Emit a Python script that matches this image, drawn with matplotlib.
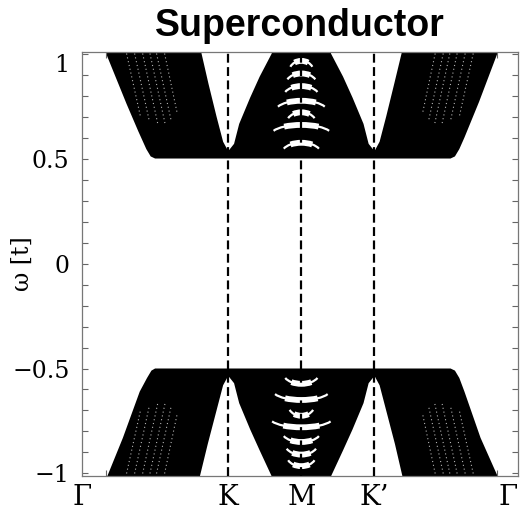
import numpy as np
import matplotlib
matplotlib.use('Agg')
import matplotlib.pyplot as plt
from matplotlib.patches import Arc
from matplotlib.ticker import MultipleLocator

plt.rcParams['font.family'] = ['DejaVu Serif']

# high-symmetry path (Γ-K-M-K'-Γ), path length units
k_pos = [0.0, 2.0, 3.0, 4.0, 5.96]
k_labels = ['Γ', 'K', 'M', 'K’', 'Γ']
k_minor = [0.33, 1.82, 2.13, 2.42, 3.60, 3.92, 4.20, 5.68]

# outer envelope of the upper (particle) band continuum
up_out_x = [0.28, 0.33, 0.61, 0.77, 0.88, 0.94, 1.00, 5.04, 5.10, 5.16, 5.23, 5.43, 5.68, 5.73]
up_out_E = [1.05, 1.00, 0.76, 0.63, 0.545, 0.51, 0.50, 0.50, 0.51, 0.545, 0.60, 0.77, 1.00, 1.05]
# empty V above K and K'
up_vK_x = [1.62, 1.635, 1.73, 1.84, 1.93, 2.0, 2.08, 2.15, 2.30, 2.43, 2.595, 2.61]
up_vK_E = [1.05, 1.00, 0.856, 0.70, 0.58, 0.535, 0.57, 0.665, 0.79, 0.89, 1.00, 1.05]
up_vKp_x = [3.39, 3.405, 3.57, 3.70, 3.85, 3.92, 4.0, 4.07, 4.16, 4.27, 4.37, 4.39]
up_vKp_E = [1.05, 1.00, 0.89, 0.79, 0.665, 0.57, 0.535, 0.58, 0.70, 0.856, 1.00, 1.05]

# lower (hole) band continuum
lo_out_x = [0.30, 0.35, 0.56, 0.79, 0.89, 0.95, 1.00, 5.04, 5.10, 5.16, 5.23, 5.45, 5.68, 5.72]
lo_out_E = [-1.05, -1.01, -0.83, -0.61, -0.545, -0.51, -0.50, -0.50, -0.51, -0.545, -0.61, -0.83, -1.01, -1.05]
lo_vK_x = [1.60, 1.615, 1.72, 1.84, 1.93, 2.0, 2.08, 2.15, 2.30, 2.43, 2.59, 2.61]
lo_vK_E = [-1.05, -1.01, -0.86, -0.70, -0.58, -0.535, -0.57, -0.665, -0.79, -0.89, -1.01, -1.05]
lo_vKp_x = [3.39, 3.41, 3.57, 3.70, 3.85, 3.92, 4.0, 4.07, 4.16, 4.28, 4.38, 4.40]
lo_vKp_E = [-1.05, -1.01, -0.89, -0.79, -0.665, -0.57, -0.535, -0.58, -0.70, -0.86, -1.01, -1.05]

# gaps between subbands around M (level, half width)
hole_up_E = [0.965, 0.905, 0.845, 0.775, 0.72, 0.66, 0.575]
hole_up_w = [0.15, 0.19, 0.22, 0.32, 0.18, 0.38, 0.24]
hole_lo_E = [-0.573, -0.65, -0.725, -0.78, -0.85, -0.91, -0.965]
hole_lo_w = [0.22, 0.36, 0.16, 0.40, 0.24, 0.20, 0.18]

# faint dotted streaks inside the Γ-K lobes (top x, bottom x, bottom E)
streak_ul = ([0.61, 0.72, 0.83, 0.93, 1.02, 1.13], [0.80, 0.92, 1.04, 1.14, 1.22, 1.30], [0.70, 0.68, 0.66, 0.66, 0.68, 0.72])
streak_ur = ([5.35, 5.24, 5.13, 5.03, 4.94, 4.83], [5.16, 5.04, 4.92, 4.82, 4.74, 4.66], [0.70, 0.68, 0.66, 0.66, 0.68, 0.72])
streak_ll = ([0.61, 0.72, 0.83, 0.93, 1.02, 1.13], [0.80, 0.92, 1.04, 1.14, 1.22, 1.30], [-0.70, -0.68, -0.66, -0.66, -0.68, -0.72])
streak_lr = ([5.35, 5.24, 5.13, 5.03, 4.94, 4.83], [5.16, 5.04, 4.92, 4.82, 4.74, 4.66], [-0.70, -0.68, -0.66, -0.66, -0.68, -0.72])

fig = plt.figure(figsize=(5.22, 5.12), dpi=100)
ax = fig.add_axes([0.157, 0.0703, 0.835, 0.828])

ax.fill(up_out_x, up_out_E, color='black', lw=0, zorder=1)
ax.fill(lo_out_x, lo_out_E, color='black', lw=0, zorder=1)
for vx, vE in [(up_vK_x, up_vK_E), (up_vKp_x, up_vKp_E), (lo_vK_x, lo_vK_E), (lo_vKp_x, lo_vKp_E)]:
    ax.fill(vx, vE, color='white', lw=0, zorder=2)

# streaks
for sx_top, sx_bot, sE_bot, top in [(*streak_ul, 1.0), (*streak_ur, 1.0), (*streak_ll, -1.0), (*streak_lr, -1.0)]:
    for a, b, e in zip(sx_top, sx_bot, sE_bot):
        ax.plot([a, b], [top, e], color='white', lw=0.8, ls=(0, (1, 2.5)), alpha=0.7, zorder=3)


def crescent(xc, e, w, up):
    # half-ellipse arc whose ends sit at xc +/- w, apex at level e
    h = 0.045
    t_end = 22.0
    a = w / np.cos(np.radians(t_end))
    sign = 1 if up else -1
    yc = e - sign * h

    def vis(t):
        # arc angles are measured on the stretched ellipse
        return np.degrees(np.arctan2(h * np.sin(np.radians(t)), a * np.cos(np.radians(t))))

    for t0, lw in [(t_end, 1.6), (55, 4.2)]:
        if up:
            th1, th2 = vis(t0), vis(180 - t0)
        else:
            th1, th2 = vis(180 + t0), vis(360 - t0)
        ax.add_patch(Arc((xc, yc), 2 * a, 2 * h, theta1=th1, theta2=th2,
                         color='white', lw=lw, zorder=3))


for e, w in zip(hole_up_E, hole_up_w):
    crescent(3.0, e, w, True)
for e, w in zip(hole_lo_E, hole_lo_w):
    crescent(3.0, e, w, False)

for xk in k_pos[1:4]:
    ax.axvline(xk, color='black', lw=1.6, ls=(0, (4, 2)), zorder=4)

ax.set_xlim(k_pos[0], k_pos[-1])
ax.set_ylim(-1.012, 1.007)

ax.set_xticks(k_pos)
ax.set_xticklabels(k_labels)
ax.set_xticks(k_minor, minor=True)
ax.set_yticks([-1, -0.5, 0, 0.5, 1])
ax.set_yticklabels(['−1', '−0.5', '0', '0.5', '1'])
ax.yaxis.set_minor_locator(MultipleLocator(0.1))

ax.tick_params(which='both', direction='in', top=True, right=True, length=4, width=0.8, color='#666666', labelsize=17)
ax.tick_params(axis='x', which='major', length=0, pad=6, labelsize=20)
ax.tick_params(axis='y', which='both', pad=9)
ax.get_yticklabels()[-1].set_va('top')
ax.get_xticklabels()[-1].set_ha('right')
for sp in ax.spines.values():
    sp.set_color('#777777')
    sp.set_linewidth(0.9)

ax.set_ylabel('ω [t]', fontsize=17)
ax.yaxis.set_label_coords(-0.11, 0.5)
fig.text(0.575, 0.949, 'Superconductor', ha='center', va='center', fontsize=27,
         fontweight='bold', family='Liberation Sans')

fig.savefig('out.png', dpi=100)
